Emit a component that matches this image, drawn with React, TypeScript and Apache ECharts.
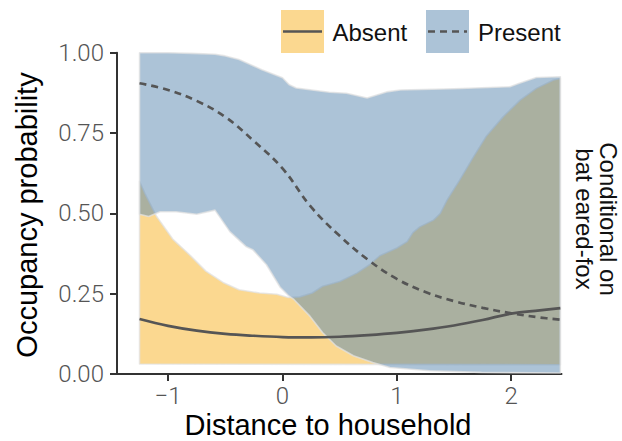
import React, { useEffect, useRef } from 'react';
import * as echarts from 'echarts';

// ---- data ----
const meanX = [-1.25, -1.0, -0.75, -0.5, -0.25, 0, 0.25, 0.5, 0.75, 1.0, 1.25, 1.5, 1.75, 2.0, 2.25, 2.43];
const absentMean = [0.171, 0.150, 0.135, 0.125, 0.119, 0.115, 0.114, 0.116, 0.121, 0.128, 0.138, 0.151, 0.168, 0.188, 0.198, 0.205];
const presentMean = [0.905, 0.884, 0.850, 0.800, 0.725, 0.640, 0.520, 0.430, 0.355, 0.296, 0.255, 0.227, 0.206, 0.189, 0.176, 0.169];

const absentUpX = [-1.25, -1.2, -1.1, -0.96, -0.81, -0.67, -0.52, -0.38, -0.2, -0.05, 0.05, 0.15, 0.26, 0.35, 0.5, 0.65, 0.76, 0.85, 1.0, 1.09, 1.14, 1.2, 1.32, 1.38, 1.44, 1.55, 1.67, 1.78, 1.93, 2.08, 2.22, 2.37, 2.43];
const absentUp = [0.60, 0.56, 0.49, 0.42, 0.37, 0.32, 0.285, 0.262, 0.252, 0.248, 0.238, 0.24, 0.252, 0.273, 0.288, 0.314, 0.34, 0.368, 0.392, 0.412, 0.44, 0.458, 0.479, 0.50, 0.542, 0.604, 0.676, 0.739, 0.801, 0.853, 0.889, 0.915, 0.92];
const absentLoX = [-1.25, 0.5, 2.43];
const absentLo = [0.031, 0.030, 0.029];

const presentUpX = [-1.25, -1.0, -0.8, -0.59, -0.5, -0.38, -0.18, 0.0, 0.06, 0.12, 0.41, 0.56, 0.74, 0.91, 1.03, 1.5, 1.99, 2.06, 2.22, 2.43];
const presentUp = [1.0, 1.0, 0.998, 0.995, 0.99, 0.979, 0.947, 0.922, 0.9, 0.89, 0.877, 0.874, 0.859, 0.878, 0.884, 0.888, 0.894, 0.903, 0.923, 0.925];
const presentLoX = [-1.25, -1.17, -1.07, -0.93, -0.75, -0.59, -0.46, -0.32, -0.26, -0.14, -0.02, 0.05, 0.1, 0.24, 0.35, 0.47, 0.62, 0.79, 0.94, 1.29, 1.74, 2.43];
const presentLo = [0.497, 0.49, 0.505, 0.505, 0.497, 0.51, 0.443, 0.397, 0.387, 0.34, 0.27, 0.245, 0.232, 0.18, 0.129, 0.087, 0.057, 0.036, 0.02, 0.01, 0.005, 0.003];

const xTicks = [-1, 0, 1, 2];
const legendLabels = ['Absent', 'Present'];
const xTitle = 'Distance to household';
const yTitle = 'Occupancy probability';
const stripText = 'Conditional on\nbat eared-fox';

// ---- styles ----
const YELLOW = 'rgba(247,177,33,0.5)';
const BLUE = 'rgba(89,135,175,0.5)';
const LINE = '#555555';
const AXIS = '#333333';
const FONT_TITLE = '"Liberation Sans", Arial, sans-serif';
const FONT_TICK = 'Roboto, "Liberation Sans", sans-serif';
const DASH = [7, 5];

export default function App() {
  const ref = useRef<HTMLDivElement>(null);

  useEffect(() => {
    if (!ref.current) return;
    const chart = echarts.init(ref.current, null, { renderer: 'svg' });

    const pairs = (xs: number[], ys: number[]) => xs.map((x, i) => [x, ys[i]]);

    const ribbon = (name: string, upX: number[], up: number[], loX: number[], lo: number[], fill: string, z: number) => ({
      type: 'custom',
      name,
      coordinateSystem: 'cartesian2d',
      silent: true,
      z,
      data: [[upX[0], up[0]]],
      renderItem: (_params: any, api: any) => {
        const top = upX.map((x, i) => api.coord([x, up[i]]));
        const bot = loX.map((x, i) => api.coord([x, lo[i]])).reverse();
        return {
          type: 'polygon',
          shape: { points: top.concat(bot) },
          style: { fill, stroke: 'rgba(226,226,226,0.75)', lineWidth: 1.6, lineJoin: 'round' },
        };
      },
    });

    const keyY = 10;
    const keyS = 43;
    const textStyle = (extra: any) => ({ fill: '#111', font: `24px ${FONT_TITLE}`, ...extra });

    chart.setOption({
      animation: false,
      grid: { left: 117, right: 60.5, top: 52.7, bottom: 67, containLabel: false },
      xAxis: {
        type: 'value',
        min: -1.447,
        max: 2.44,
        splitLine: { show: false },
        axisLine: { show: true, onZero: false, lineStyle: { color: AXIS, width: 2 } },
        axisTick: { show: true, length: 7, customValues: xTicks, lineStyle: { color: AXIS, width: 2 } },
        axisLabel: {
          customValues: xTicks,
          margin: 10,
          color: '#555',
          fontSize: 24,
          fontWeight: 300,
          fontFamily: FONT_TICK,
          formatter: (v: number) => (v < 0 ? '\u2212' + Math.abs(v) : String(v)),
        },
      },
      yAxis: {
        type: 'value',
        min: 0,
        max: 1,
        interval: 0.25,
        splitLine: { show: false },
        axisLine: { show: true, onZero: false, lineStyle: { color: AXIS, width: 2 } },
        axisTick: { show: true, length: 7, lineStyle: { color: AXIS, width: 2 } },
        axisLabel: {
          margin: 13,
          color: '#555',
          fontSize: 24,
          fontWeight: 300,
          fontFamily: FONT_TICK,
          formatter: (v: number) => v.toFixed(2),
        },
      },
      series: [
        ribbon('Absent band', absentUpX, absentUp, absentLoX, absentLo, YELLOW, 1),
        ribbon('Present band', presentUpX, presentUp, presentLoX, presentLo, BLUE, 2),
        {
          type: 'line',
          name: 'Absent',
          data: pairs(meanX, absentMean),
          smooth: 0.4,
          symbol: 'none',
          z: 3,
          lineStyle: { color: LINE, width: 2.7 },
        },
        {
          type: 'line',
          name: 'Present',
          data: pairs(meanX, presentMean),
          smooth: 0.4,
          symbol: 'none',
          z: 3,
          lineStyle: { color: LINE, width: 2.7, type: DASH },
        },
      ],
      graphic: [
        // legend
        { type: 'rect', shape: { x: 281, y: keyY, width: keyS, height: keyS }, style: { fill: YELLOW } },
        { type: 'line', shape: { x1: 283, y1: keyY + keyS / 2, x2: 281 + keyS - 2, y2: keyY + keyS / 2 }, style: { stroke: LINE, lineWidth: 2.7 } },
        { type: 'text', x: 332.5, y: keyY + keyS / 2 + 1, style: textStyle({ text: legendLabels[0], align: 'left', verticalAlign: 'middle' }) },
        { type: 'rect', shape: { x: 426, y: keyY, width: keyS, height: keyS }, style: { fill: BLUE } },
        { type: 'line', shape: { x1: 428, y1: keyY + keyS / 2, x2: 426 + keyS - 2, y2: keyY + keyS / 2 }, style: { stroke: LINE, lineWidth: 2.7, lineDash: DASH } },
        { type: 'text', x: 478, y: keyY + keyS / 2 + 1, style: textStyle({ text: legendLabels[1], align: 'left', verticalAlign: 'middle' }) },
        // axis titles
        { type: 'text', x: 328, y: 425, style: { text: xTitle, fill: '#000', font: `29px ${FONT_TITLE}`, align: 'center', verticalAlign: 'middle' } },
        { type: 'text', x: 27, y: 215, rotation: Math.PI / 2, style: { text: yTitle, fill: '#000', font: `29px ${FONT_TITLE}`, align: 'center', verticalAlign: 'middle' } },
        // strip label
        { type: 'text', x: 596, y: 219, rotation: -Math.PI / 2, style: { text: stripText, fill: '#111', font: `24px ${FONT_TITLE}`, lineHeight: 24, align: 'center', verticalAlign: 'middle' } },
      ],
    });

    return () => chart.dispose();
  }, []);

  return <div ref={ref} style={{ position: 'absolute', left: 0, top: 0, width: 622, height: 441 }} />;
}
